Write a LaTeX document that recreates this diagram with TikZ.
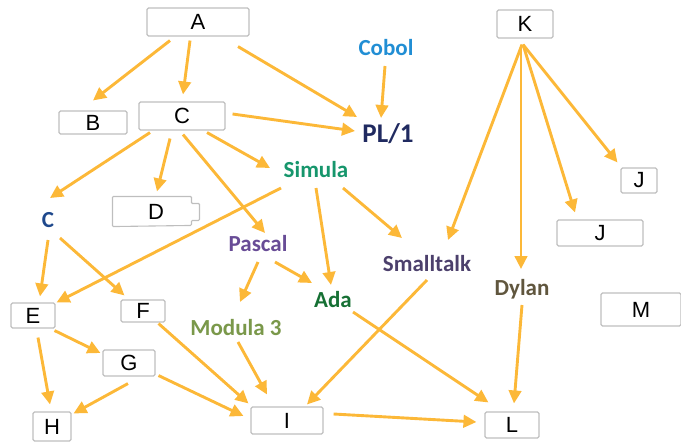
\documentclass[tikz,border=0pt]{standalone}
\usepackage{fontspec}
\setmainfont{Liberation Sans}
\newfontfamily\lblfont{Carlito}
\usetikzlibrary{arrows.meta,calc}

\definecolor{arrowc}{RGB}{252,184,56}
\definecolor{boxc}{RGB}{190,190,190}
\definecolor{cobolc}{RGB}{33,142,212}
\definecolor{plc}{RGB}{32,42,96}
\definecolor{simulac}{RGB}{22,150,108}
\definecolor{cblue}{RGB}{30,72,140}
\definecolor{pascalc}{RGB}{104,76,150}
\definecolor{adac}{RGB}{22,112,52}
\definecolor{modulac}{RGB}{122,152,74}
\definecolor{smallc}{RGB}{76,64,108}
\definecolor{dylanc}{RGB}{96,86,62}

\tikzset{
    box/.style={draw=boxc, line width=1.1pt, rounded corners=1.5pt, inner sep=0pt,
        font=\fontsize{22}{26}\selectfont},
    lang/.style={inner sep=0pt, font=\lblfont\bfseries\fontsize{23}{27}\selectfont},
    arr/.style={draw=arrowc, line width=2.9pt, -{Triangle[length=13pt,width=12.5pt]}}
}

\begin{document}
\begin{tikzpicture}[x=1pt,y=-1pt]
    \useasboundingbox (0,0) rectangle (681,442);
    % boxed nodes
    \node[box, minimum width=102pt, minimum height=28pt] (A) at (198,22) {A};
    \node[box, minimum width=68pt, minimum height=23pt] (B) at (93,122.5) {B};
    \node[box, minimum width=86pt, minimum height=28pt] (Cb) at (182,116) {C};
    \node[box, draw=none, minimum width=86pt, minimum height=29pt] (D) at (156,211.5) {D};
    \draw[boxc, line width=1.1pt, rounded corners=1pt] (D.north west) -- ++(79,0) -- ++(0,7) -- ++(8,0)
        -- ++(0,17) -- ++(-8,0) -- ++(0,5) -- (D.south west) -- cycle;
    \node[box, minimum width=56pt, minimum height=28pt] (K) at (525,24) {K};
    \node[box, minimum width=36pt, minimum height=25pt] (J1) at (639,180.5) {J};
    \node[box, minimum width=86pt, minimum height=26pt] (J2) at (600,233) {J};
    \node[box, minimum width=80pt, minimum height=33pt] (M) at (641,309.5) {M};
    \node[box, minimum width=44pt, minimum height=25pt] (E) at (33,315.5) {E};
    \node[box, minimum width=44pt, minimum height=22pt] (F) at (143,311) {F};
    \node[box, minimum width=52pt, minimum height=26pt] (G) at (129,363) {G};
    \node[box, minimum width=38pt, minimum height=29pt] (H) at (52,426.5) {H};
    \node[box, minimum width=72pt, minimum height=27pt] (I) at (287,420.5) {I};
    \node[box, minimum width=54pt, minimum height=26pt] (L) at (512,425) {L};
    % language names
    \node[lang, cobolc] (Cobol) at (386,48) {Cobol};
    \node[lang, plc, font=\lblfont\bfseries\fontsize{27}{31}\selectfont] (PL1) at (388,134) {PL/1};
    \node[lang, simulac] (Simula) at (316,170) {Simula};
    \node[lang, cblue] (Cl) at (48,220) {C};
    \node[lang, pascalc] (Pascal) at (258,244) {Pascal};
    \node[lang, adac] (Ada) at (333,300) {Ada};
    \node[lang, modulac] (Modula) at (236,328) {Modula 3};
    \node[lang, smallc] (Smalltalk) at (427,264) {Smalltalk};
    \node[lang, dylanc] (Dylan) at (522,289) {Dylan};
    % connectors
    \draw[arr] ($(A.south)+(-28,4)$) -- ($(B.north)+(0,-10)$);
    \draw[arr] ($(A.south)+(-8,4)$) -- ($(Cb.north)+(1,-7)$);
    \draw[arr] ($(A.south)+(40,10)$) -- ($(PL1)+(-31,-17)$);
    \draw[arr] ($(Cobol)+(-1,18)$) -- ($(PL1)+(-7,-16)$);
    \draw[arr] ($(Cb.east)+(7,-2)$) -- ($(PL1)+(-33,-3)$);
    \draw[arr] ($(Cb.south)+(-32,2)$) -- ($(Cl)+(2,-22)$);
    \draw[arr] ($(Cb.south)+(-12,8)$) -- ($(D.north)+(1,-5)$);
    \draw[arr] ($(Cb.south)+(1,4)$) -- ($(Pascal)+(7,-11)$);
    \draw[arr] ($(Cb.south)+(25,2)$) -- ($(Simula)+(-46,-2)$);
    \draw[arr] ($(Simula)+(-35,18)$) -- ($(E.north east)+(1,0)$);
    \draw[arr] ($(Simula)+(0,18)$) -- ($(Ada)+(-2,-15)$);
    \draw[arr] ($(Simula)+(27,18)$) -- ($(Smalltalk)+(-25,-26)$);
    \draw[arr] ($(K.south)+(-3,6)$) -- ($(Smalltalk)+(21,-24)$);
    \draw[arr] ($(K.south)+(-4,6)$) -- ($(Dylan)+(-1,-20)$);
    \draw[arr] ($(K.south)+(-2,6)$) -- ($(J2.north)+(-25,-7)$);
    \draw[arr] ($(K.south)+(-2,6)$) -- ($(J1.north west)+(-3,-5)$);
    \draw[arr] ($(Cl)+(0,20)$) -- ($(E.north)+(7,-6)$);
    \draw[arr] ($(Cl)+(12,18)$) -- ($(F.north west)+(4,-4)$);
    \draw[arr] ($(Pascal)+(0,18)$) -- ($(Modula)+(4,-26)$);
    \draw[arr] ($(Pascal)+(17,18)$) -- ($(Ada)+(-21,-17)$);
    \draw[arr] ($(E.south east)+(-1,2)$) -- ($(G.west)+(-2,-10)$);
    \draw[arr] ($(E.south)+(5,9)$) -- ($(H.north)+(-2,-7)$);
    \draw[arr] ($(G.south)+(-1,7)$) -- ($(H.north east)+(2,2)$);
    \draw[arr] ($(G.south east)+(3,-1)$) -- ($(I.west)+(-7,-4.5)$);
    \draw[arr] ($(F.south east)+(-7,1)$) -- ($(I.north west)+(-2,-3)$);
    \draw[arr] ($(Modula)+(2,14)$) -- ($(I.north)+(-20,-12)$);
    \draw[arr] ($(Smalltalk)+(0,16)$) -- ($(I.north)+(20,-2)$);
    \draw[arr] ($(Ada)+(20,12)$) -- ($(L.north west)+(4,-9)$);
    \draw[arr] ($(Dylan)+(0,16)$) -- ($(L.north)+(2,-8)$);
    \draw[arr] ($(I.east)+(10,-6.5)$) -- ($(L.west)+(-8,-3)$);
\end{tikzpicture}
\end{document}
